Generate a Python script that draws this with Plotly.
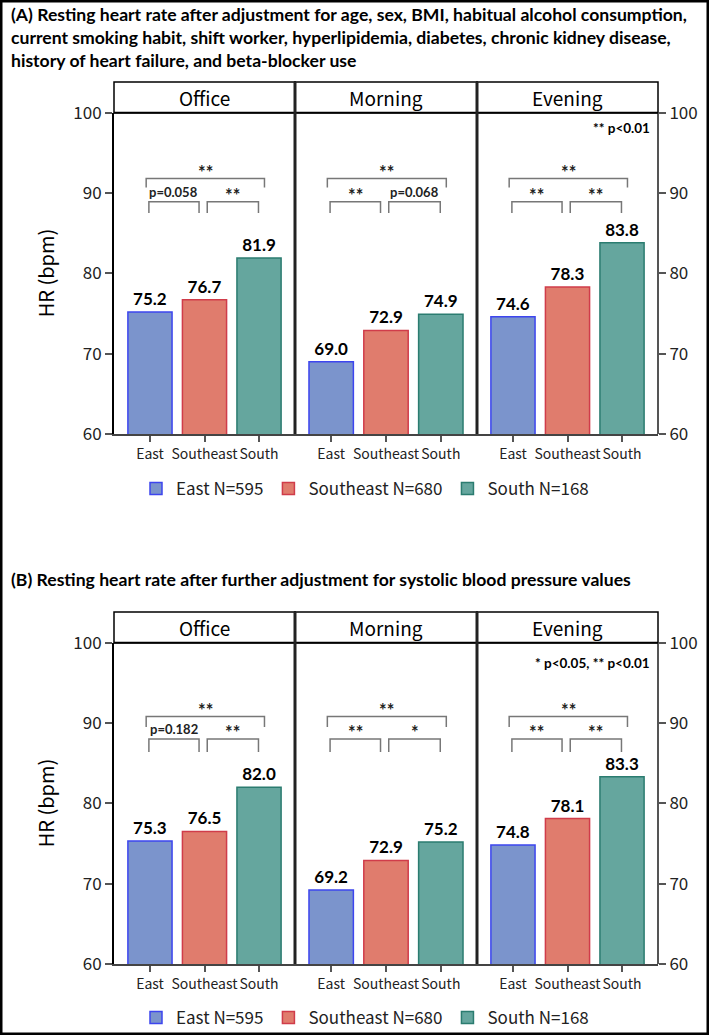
import plotly.graph_objects as go

W, H = 709, 1035

regions = ["East", "Southeast", "South"]
n_counts = [595, 680, 168]
periods = ["Office", "Morning", "Evening"]

# panel A: adjusted for age, sex, BMI, ...
hr_a_office = [75.2, 76.7, 81.9]
hr_a_morning = [69.0, 72.9, 74.9]
hr_a_evening = [74.6, 78.3, 83.8]
# panel B: further adjusted for systolic BP
hr_b_office = [75.3, 76.5, 82.0]
hr_b_morning = [69.2, 72.9, 75.2]
hr_b_evening = [74.8, 78.1, 83.3]

# significance labels: (East vs Southeast, Southeast vs South, East vs South)
sig_a_office = ["p=0.058", "**", "**"]
sig_a_morning = ["**", "p=0.068", "**"]
sig_a_evening = ["**", "**", "**"]
sig_b_office = ["p=0.182", "**", "**"]
sig_b_morning = ["**", "*", "**"]
sig_b_evening = ["**", "**", "**"]

y_ticks = [60, 70, 80, 90, 100]

title_a = ("(A) Resting heart rate after adjustment for age, sex, BMI, habitual alcohol consumption,<br>"
           "current smoking habit, shift worker, hyperlipidemia, diabetes, chronic kidney disease,<br>"
           "history of heart failure, and beta-blocker use")
title_b = "(B) Resting heart rate after further adjustment for systolic blood pressure values"
note_a = "** p<0.01"
note_b = "* p<0.05, ** p<0.01"

fills = ["#7b94cc", "#e07c6d", "#65a69e"]
edges = ["#3d45ee", "#d03c4a", "#2b7c70"]

AX_FONT = "Noto Sans CJK JP, Arial, sans-serif"
BOLD_FONT = "Lato, Calibri, Arial, sans-serif"


def px_x(x):
    return x / W


def px_y(y):
    return 1 - y / H


panel_x = [114, 295, 477, 658]
panels = [
    dict(hr=[hr_a_office, hr_a_morning, hr_a_evening],
         sig=[sig_a_office, sig_a_morning, sig_a_evening],
         top=112.7, bot=434, head=82, legend_y=489, title=title_a, title_y=2,
         note=note_a, note_y=98.1, brk=(91.8, 90.7, 88.9, 87.5)),
    dict(hr=[hr_b_office, hr_b_morning, hr_b_evening],
         sig=[sig_b_office, sig_b_morning, sig_b_evening],
         top=642.7, bot=964, head=612, legend_y=1018, title=title_b, title_y=567,
         note=note_b, note_y=97.5, brk=(90.8, 89.5, 88.0, 86.4)),
]

fig = go.Figure()
layout = dict(
    width=W, height=H, margin=dict(l=0, r=0, t=0, b=0, autoexpand=False),
    plot_bgcolor="white", paper_bgcolor="white",
    barmode="overlay", showlegend=True,
)
shapes = []
annotations = []

for p, pan in enumerate(panels):
    ya = "y" if p == 0 else "y2"
    ya_right = "y3" if p == 0 else "y4"
    ydom = [px_y(pan["bot"]), px_y(pan["top"])]
    legend_name = "legend" if p == 0 else "legend2"

    for j, period in enumerate(periods):
        k = p * 3 + j + 1
        xname = "x" if k == 1 else f"x{k}"
        layout["xaxis" if k == 1 else f"xaxis{k}"] = dict(
            domain=[px_x(panel_x[j]), px_x(panel_x[j + 1])],
            anchor=ya, range=[-0.66, 2.66], automargin=False,
            tickvals=list(range(len(regions))), ticktext=regions, tickangle=0,
            ticks="outside", ticklen=6, tickwidth=1.5, tickcolor="#555",
            showline=True, linecolor="#444", linewidth=2,
            showgrid=False, zeroline=False, fixedrange=True,
            tickfont=dict(family=AX_FONT, size=14, color="#222"),
        )
        for i, reg in enumerate(regions):
            v = pan["hr"][j][i]
            fig.add_trace(go.Bar(
                x=[i], y=[v], width=0.81,
                xaxis=xname, yaxis=ya,
                name=f"{reg} N={n_counts[i]}", legendgroup=f"{reg}{p}",
                legend=legend_name, showlegend=(j == 0),
                marker=dict(color=fills[i], line=dict(color=edges[i], width=1.5)),
                text=[f"{v:.1f}"], textposition="outside", constraintext="none",
                textfont=dict(family=BOLD_FONT, size=17, color="black", weight="bold"),
                cliponaxis=False, hoverinfo="skip",
            ))

        # significance brackets (data coordinates)
        top_y, top_leg, low_y, low_leg = pan["brk"]
        spans = [(-0.02, 0.9, low_y, low_leg), (1.05, 1.99, low_y, low_leg),
                 (-0.07, 2.1, top_y, top_leg)]
        for (x0, x1, yb, yl), lab in zip(spans, pan["sig"][j]):
            shapes.append(dict(
                type="path", xref=xname, yref=ya,
                path=f"M{x0},{yl} L{x0},{yb} L{x1},{yb} L{x1},{yl}",
                line=dict(color="#777", width=1.5),
            ))
            is_p = lab.startswith("p")
            annotations.append(dict(
                x=(x0 + x1) / 2, y=yb, xref=xname, yref=ya,
                text=f"<b>{lab}</b>", showarrow=False,
                xanchor="center", yanchor="bottom",
                yshift=0 if is_p else -6,
                font=dict(family=BOLD_FONT, size=13 if is_p else 18,
                          color="#222"),
            ))

        # header strip
        shapes.append(dict(
            type="rect", xref="paper", yref="paper",
            x0=px_x(panel_x[j]), x1=px_x(panel_x[j + 1]),
            y0=px_y(pan["top"]), y1=px_y(pan["head"]),
            line=dict(color="black", width=1.5), fillcolor="white", layer="below",
        ))
        annotations.append(dict(
            x=px_x((panel_x[j] + panel_x[j + 1]) / 2),
            y=px_y((pan["top"] + pan["head"]) / 2),
            xref="paper", yref="paper", text=period, showarrow=False,
            xanchor="center", yanchor="middle",
            font=dict(family=AX_FONT, size=19, color="black"),
        ))

    # y axes (left and right)
    yax = dict(
        domain=ydom, range=[60, 100], tickvals=y_ticks, automargin=False,
        ticks="outside", ticklen=7, tickwidth=1.5, tickcolor="#555",
        showgrid=False, zeroline=False, fixedrange=True,
        tickfont=dict(family=AX_FONT, size=17, color="#222"),
    )
    layout["yaxis" if p == 0 else "yaxis2"] = dict(
        yax, anchor="x" if p == 0 else "x4",
        showline=True, linecolor="black", linewidth=2,
    )
    layout["yaxis3" if p == 0 else "yaxis4"] = dict(
        yax, overlaying=ya, side="right", anchor="free",
        position=px_x(panel_x[3]), showline=True, linecolor="#555", linewidth=2,
    )
    fig.add_trace(go.Scatter(x=[], y=[], xaxis="x3" if p == 0 else "x6",
                             yaxis=ya_right, showlegend=False, hoverinfo="skip"))

    # frame: top line and panel dividers
    shapes.append(dict(type="line", xref="paper", yref="paper",
                       x0=px_x(panel_x[0]), x1=px_x(panel_x[3]),
                       y0=px_y(pan["top"]), y1=px_y(pan["top"]),
                       line=dict(color="black", width=2)))
    for xd in panel_x[1:3]:
        shapes.append(dict(type="line", xref="paper", yref="paper",
                           x0=px_x(xd), x1=px_x(xd),
                           y0=px_y(pan["bot"]), y1=px_y(pan["head"]),
                           line=dict(color="#222", width=3)))

    # y title
    annotations.append(dict(
        x=px_x(45), y=px_y((pan["top"] + pan["bot"]) / 2), xref="paper", yref="paper",
        text="HR (bpm)", textangle=-90, showarrow=False,
        xanchor="center", yanchor="middle",
        font=dict(family=AX_FONT, size=20, color="black"),
    ))
    # panel title
    annotations.append(dict(
        x=px_x(9), y=px_y(pan["title_y"]), xref="paper", yref="paper",
        xanchor="left", yanchor="top", align="left", text=f"<b>{pan['title']}</b>",
        showarrow=False, font=dict(family=BOLD_FONT, size=17.6, color="black"),
    ))
    # p-value note
    annotations.append(dict(
        x=2.55, y=pan["note_y"], xref="x3" if p == 0 else "x6", yref=ya,
        xanchor="right", yanchor="middle", text=f"<b>{pan['note']}</b>",
        showarrow=False, font=dict(family=BOLD_FONT, size=13.5, color="black"),
    ))
    layout[legend_name] = dict(
        orientation="h", x=px_x(365), y=px_y(pan["legend_y"]),
        xanchor="center", yanchor="middle", bgcolor="rgba(0,0,0,0)",
        font=dict(family=AX_FONT, size=17, color="#222"),
        itemwidth=30, tracegroupgap=0,
    )

# outer border
shapes.append(dict(type="rect", xref="paper", yref="paper", x0=0, x1=1, y0=0, y1=1,
                   line=dict(color="black", width=5)))

layout["shapes"] = shapes
layout["annotations"] = annotations
fig.update_layout(**layout)

# drop the default page margin so the 709x1035 figure fills the window
fig.write_html("out.html", config={"displayModeBar": False},
               post_script="document.body.style.margin='0';")
